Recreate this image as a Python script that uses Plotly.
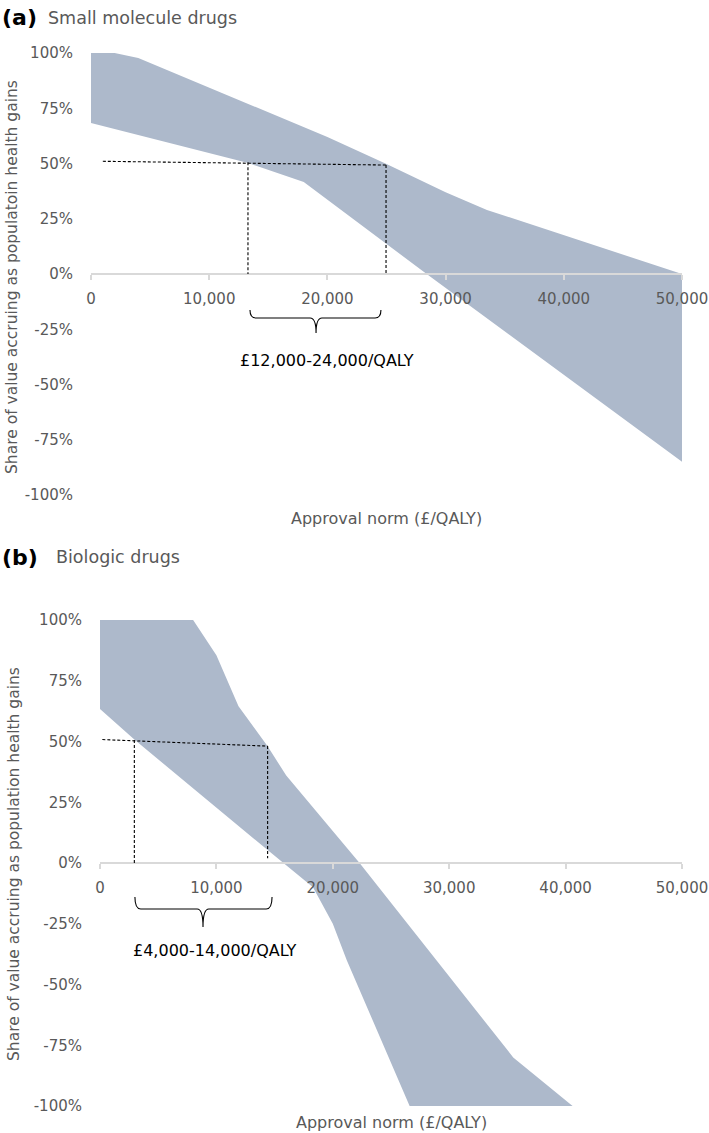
import plotly.graph_objects as go

# ---------------- data ----------------
# Panel (a): small molecule drugs (share in %)
a_upper_x = [0, 2000, 4000, 10000, 15000, 20000, 25000, 30000, 33500, 40000, 45000, 50000]
a_upper_y = [100, 100, 97.7, 84.2, 73, 62, 49.8, 37, 29, 17.5, 8.5, 0]
a_lower_x = [0, 13300, 18000, 28400, 50000]
a_lower_y = [68.3, 50.2, 41.6, 0, -85]

# Panel (b): biologic drugs (share in %)
b_upper_x = [0, 8000, 10000, 11900, 14400, 16000, 22300, 35500, 40600]
b_upper_y = [100, 100, 85.5, 64.5, 48, 36, 0, -80, -100]
b_lower_x = [0, 3000, 14400, 18300, 20000, 21200, 26600]
b_lower_y = [63.4, 50.6, 5.3, -10, -25, -40, -100]

# Reference (dashed) guides: horizontal line start/end and vertical thresholds
a_hline = [(1000, 51.0), (24960, 49.3)]
a_vlines = [(13280, 50.6), (24960, 49.3)]
b_hline = [(200, 50.8), (14400, 48.1)]
b_vlines = [(2950, 50.6), (14400, 48.1)]
b_vline_bottom = [0, 2]

# Brace ranges and labels
a_brace = (13450, 24530, 19040)
b_brace = (3000, 14780, 8850)
a_brace_label = "£12,000-24,000/QALY"
b_brace_label = "£4,000-14,000/QALY"

x_ticks = [0, 10000, 20000, 30000, 40000, 50000]
x_ticktext = ["0", "10,000", "20,000", "30,000", "40,000", "50,000"]
y_ticks = [100, 75, 50, 25, 0, -25, -50, -75, -100]
y_ticktext = ["100%", "75%", "50%", "25%", "0%", "-25%", "-50%", "-75%", "-100%"]

# ---------------- layout helpers ----------------
W, H = 709, 1133
def px(x):
    return x / W
def py(y):
    return 1 - y / H

FILL = "#adb9cb"
GREY = "#595959"
AXIS = "#d9d9d9"
FONT = "DejaVu Sans"

fig = go.Figure()

def band(ux, uy, lx, ly, xa, ya):
    xs = list(ux) + list(reversed(lx))
    ys = list(uy) + list(reversed(ly))
    fig.add_trace(go.Scatter(x=xs, y=ys, mode="lines", fill="toself",
                             fillcolor=FILL, line=dict(width=0, color=FILL),
                             xaxis=xa, yaxis=ya, hoverinfo="skip", showlegend=False))

band(a_upper_x, a_upper_y, a_lower_x, a_lower_y, "x", "y")
band(b_upper_x, b_upper_y, b_lower_x, b_lower_y, "x2", "y2")

shapes = []
dash = dict(color="black", width=1.1, dash="3px,2px")

def add_guides(hline, vlines, xr, yr, bottoms=(0, 0)):
    shapes.append(dict(type="line", xref=xr, yref=yr, x0=hline[0][0], y0=hline[0][1],
                       x1=hline[1][0], y1=hline[1][1], line=dash))
    for (vx, vy), vb in zip(vlines, bottoms):
        shapes.append(dict(type="line", xref=xr, yref=yr, x0=vx, y0=vy, x1=vx, y1=vb, line=dash))

add_guides(a_hline, a_vlines, "x", "y")
add_guides(b_hline, b_vlines, "x2", "y2", b_vline_bottom)

def brace(x0, x1, xm, yt, ym, yb, xr, yr, dx):
    p = (f"M {x0},{yt} Q {x0},{ym} {x0+dx},{ym} L {xm-dx},{ym} "
         f"Q {xm},{ym} {xm},{yb} Q {xm},{ym} {xm+dx},{ym} L {x1-dx},{ym} "
         f"Q {x1},{ym} {x1},{yt}")
    shapes.append(dict(type="path", path=p, xref=xr, yref=yr,
                       line=dict(color="black", width=1.1)))

brace(a_brace[0], a_brace[1], a_brace[2], -16.3, -19.9, -26.7, "x", "y", 500)
brace(b_brace[0], b_brace[1], b_brace[2], -14.0, -18.9, -26.3, "x2", "y2", 500)

tickfont = dict(family=FONT, size=15, color=GREY)

xcommon = dict(range=[0, 50000], tickvals=x_ticks, ticktext=x_ticktext, tickfont=tickfont,
               showgrid=False, zeroline=False, showline=True, linecolor=AXIS, linewidth=1.5,
               ticks="outside", ticklen=5, tickcolor=AXIS, tickwidth=1.5,
               anchor="free", fixedrange=True, ticklabelstandoff=6, automargin=False)
ycommon = dict(range=[-100, 100], tickvals=y_ticks, ticktext=y_ticktext, tickfont=tickfont,
               showgrid=False, zeroline=False, showline=False, ticks="",
               ticklabelstandoff=17, fixedrange=True, automargin=False)

fig.update_layout(
    width=W, height=H, margin=dict(l=0, r=0, t=0, b=0, pad=0, autoexpand=False),
    paper_bgcolor="white", plot_bgcolor="white",
    xaxis=dict(domain=[px(91), px(682)], position=py(274), **xcommon),
    yaxis=dict(domain=[py(495), py(53)], anchor="x", **ycommon),
    xaxis2=dict(domain=[px(100), px(682)], position=py(863), **xcommon),
    yaxis2=dict(domain=[py(1106), py(620)], anchor="x2", **ycommon),
    shapes=shapes,
    showlegend=False,
)

ann = []
def text(t, x, y, size, color=GREY, bold=False, angle=0, xanchor="center"):
    ann.append(dict(text=(f"<b>{t}</b>" if bold else t), x=px(x), y=py(y), xref="paper", yref="paper",
                    showarrow=False, textangle=angle, xanchor=xanchor, yanchor="middle",
                    font=dict(family=FONT, size=size, color=color)))

# Panel titles
text("(a)", 0, 17, 22, color="black", bold=True, xanchor="left")
text("Small molecule drugs", 46, 18, 17.5, xanchor="left")
text("(b)", 0, 557, 22, color="black", bold=True, xanchor="left")
text("Biologic drugs", 54, 557, 17.5, xanchor="left")

# Axis titles
text("Share of value accruing as populatoin health gains", 12, 277, 15.5, angle=-90)
text("Approval norm (£/QALY)", 386, 518, 16)
text("Share of value accruing as population health gains", 14, 864, 15.5, angle=-90)
text("Approval norm (£/QALY)", 391, 1122, 16)

# Brace labels
text(a_brace_label, 327, 360, 16, color="black")
text(b_brace_label, 215, 950, 16, color="black")

fig.update_layout(annotations=ann)

fig.write_html("out.html",
               config={"displayModeBar": False},
               post_script="document.body.style.margin='0';document.body.style.padding='0';"
                           "document.documentElement.style.overflow='hidden';")
